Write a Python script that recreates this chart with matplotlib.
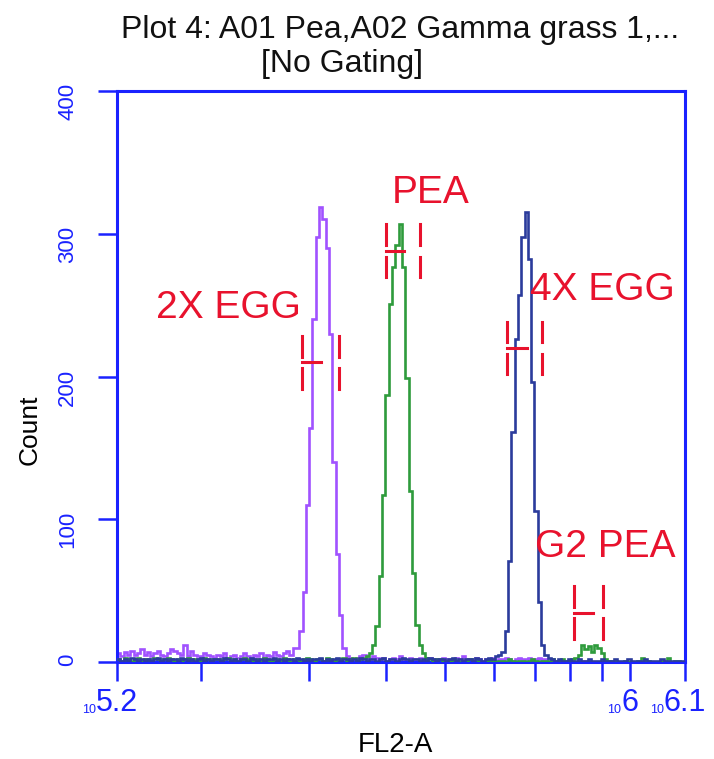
import numpy as np
import matplotlib.pyplot as plt

plt.rcParams['font.family'] = ['Liberation Sans', 'DejaVu Sans']

# histogram channels, log10(FL2-A)
log_first_bin = 5.164
log_bin_width = 0.0054
x_range = (5.164, 6.0897)

# A01/A02 traces, counts per channel
purple_left = [6, 4, 7, 5, 8, 5, 6, 9, 5, 7, 4, 6, 8, 5, 4, 6, 9, 8, 6, 5,
               12, 4, 8, 5, 4, 4, 6, 5, 4, 3, 5, 4, 6, 3, 4, 5, 3, 4, 6, 4,
               3, 5, 4, 6, 3, 5, 4, 7, 5, 4, 6, 8, 5, 10]
purple_peak = [10, 22, 49, 110, 164, 240, 298, 319, 310, 290, 230, 140, 76, 33, 10]
purple_right = [4, 3, 2, 3, 4, 5, 3, 2, 4, 3, 2, 3, 1, 2, 3, 2, 4, 2, 1, 3,
                2, 2, 3, 1, 2, 3, 2, 1, 2, 3, 2, 2, 1, 3, 2, 4, 2, 1, 2, 3,
                2, 1, 2, 2, 3, 1, 2, 2, 3, 2, 1, 2, 3, 2, 2, 3, 2, 2, 3, 2, 2,
                1, 1, 0, 1, 0, 0, 1, 0, 0, 0, 0, 1, 0, 0, 0, 0, 0, 0, 1, 0,
                0, 0, 0, 0, 0, 0, 0, 0, 0, 0, 0, 0, 0, 0, 0, 0, 0, 0, 0, 0, 0, 0]

green_left = [2, 1, 3, 2, 1, 2, 3, 1, 2, 2, 1, 3, 2, 1, 2, 3, 2, 1, 2, 1,
              2, 3, 1, 2, 2, 1, 3, 2, 1, 2, 2, 1, 2, 3, 1, 2, 1, 2, 3, 2,
              1, 2, 2, 1, 3, 2, 1, 2, 2, 1, 3, 2, 1, 2, 2, 1, 2, 3, 2, 1,
              2, 2, 1, 3, 2, 1, 2, 2, 3, 1, 2, 3, 1, 2, 3, 4]
green_peak = [6, 12, 25, 60, 117, 187, 251, 277, 292, 307, 277, 199, 120, 62, 26, 12, 6]
green_mid = [3, 2, 1, 2, 2, 1, 0, 1, 2, 1, 0, 1, 1, 2, 0, 1, 1, 0, 1, 2,
             1, 0, 1, 1, 0, 2, 1, 0, 1, 1, 0, 1, 2, 1, 0, 1, 1, 0, 2, 1,
             1, 2, 1, 0, 2, 3]
green_g2 = [5, 12, 9, 11, 7, 12, 10, 6]
green_right = [2, 1, 0, 1, 0, 0, 1, 0, 0, 0, 1, 3, 0, 1, 0, 0, 0, 1, 0, 3,
               0, 1, 1, 0, 0]

navy_left = [2, 1, 2, 1, 3, 2, 1, 2, 1, 2, 1, 2, 3, 1, 2, 1, 2, 2, 1, 3,
             2, 1, 2, 1, 2, 3, 1, 2, 1, 2, 2, 1, 3, 2, 1, 2, 1, 2, 2, 1,
             3, 2, 1, 2, 1, 2, 2, 3, 1, 2, 1, 2, 2, 1, 3, 2, 1, 2, 1, 2,
             2, 3, 1, 2, 1, 2, 3, 1, 2, 2, 1, 2, 1, 3, 2, 1, 2, 2, 1, 2,
             3, 1, 2, 2, 1, 2, 3, 2, 1, 2, 2, 1, 2, 1, 3, 2, 1, 2, 2, 1,
             2, 3, 1, 2, 1, 2, 2, 1, 3, 2, 1, 2, 3, 2, 4]
navy_peak = [5, 7, 22, 71, 161, 226, 257, 298, 315, 282, 196, 106, 42, 12, 5]
navy_right = [3, 2, 1, 2, 1, 1, 2, 1, 1, 2, 1, 1, 2, 1, 1, 1, 2, 1, 1, 1,
              2, 1, 1, 1, 2, 1, 1, 1, 1, 2, 1, 1, 1, 1, 2, 1, 1, 1, 1, 1, 1, 1]

# cursor markers (log10 x) and their labels
marker_names = ['2X EGG', 'PEA', '4X EGG', 'G2 PEA']
marker_left = [5.4651, 5.6024, 5.7991, 5.9093]
marker_right = [5.5259, 5.6579, 5.8562, 5.9556]
marker_mid = [5.4965, 5.6318, 5.8317, 5.9398]
marker_y = [210, 288, 220, 34.5]
label_x = [5.345, 5.6758, 5.9544, 5.9593]
label_y = [240.9, 321.5, 253.6, 73.6]

blue = '#1a22ff'
red = '#e8122d'

purple = np.array(purple_left + purple_peak + purple_right, dtype=float)
green = np.array(green_left + green_peak + green_mid + green_g2 + green_right, dtype=float)
navy = np.array(navy_left + navy_peak + navy_right, dtype=float)
edges = 10 ** (log_first_bin + log_bin_width * np.arange(len(purple) + 1))

fig = plt.figure(figsize=(7.14, 7.59), dpi=100)
ax = fig.add_axes([117/714, 1 - 662/759, 568/714, 571/759])
ax.set_xscale('log')

ax.stairs(purple, edges, baseline=None, color='#a052ff', lw=1.9, zorder=2)
ax.stairs(green, edges, baseline=None, color='#2e9b3c', lw=1.9, zorder=3)
ax.stairs(navy, edges, baseline=None, color='#2b3b9c', lw=1.9, zorder=4)

# red cursor markers
for i in range(len(marker_names)):
    y = marker_y[i]
    for xv in (marker_left[i], marker_right[i]):
        ax.plot([10**xv]*2, [y + 4, y + 18.5], color=red, lw=2.2, zorder=5)
        ax.plot([10**xv]*2, [y - 18.5, y - 4], color=red, lw=2.2, zorder=5)
    ax.plot([10**marker_left[i], 10**marker_mid[i]], [y, y], color=red, lw=2.2, zorder=5)
    ax.text(10**label_x[i], label_y[i], marker_names[i], color=red, fontsize=28,
            ha='center', va='baseline', zorder=6)

ax.set_xlim(10**x_range[0], 10**x_range[1])
ax.set_ylim(0, 400)

for s in ax.spines.values():
    s.set_color(blue)
    s.set_linewidth(2.2)

ax.set_yticks([0, 100, 200, 300, 400])
ax.tick_params(axis='y', colors=blue, length=14, width=1.8, labelsize=16,
               labelrotation=90, pad=14)
ax.set_xticks([10**x_range[0], 1e6, 10**x_range[1]], ['5.2', '6', '6.1'])
ax.set_xticks([k * 1e5 for k in range(2, 10)], minor=True)
ax.xaxis.set_minor_formatter(plt.NullFormatter())
ax.tick_params(axis='x', which='both', colors=blue, length=14, width=1.8,
               labelsize=22, pad=5)

for lab in ax.get_xticklabels():
    ax.annotate('10', xy=(0, 0.08), xycoords=lab, ha='right', va='bottom',
                fontsize=9, color=blue)

fig.text(30/714, 1 - 430/759, 'Count', rotation=90, fontsize=19,
         ha='center', va='center')
fig.text(395/714, 1 - 745/759, 'FL2-A', fontsize=20, ha='center', va='center')
fig.text(400/714, 1 - 38/759, 'Plot 4: A01 Pea,A02 Gamma grass 1,...',
         fontsize=23, ha='center', va='baseline', color='#111111')
fig.text(342/714, 1 - 72/759, '[No Gating]', fontsize=23, ha='center',
         va='baseline', color='#111111')

plt.savefig('out.png', dpi=100)
